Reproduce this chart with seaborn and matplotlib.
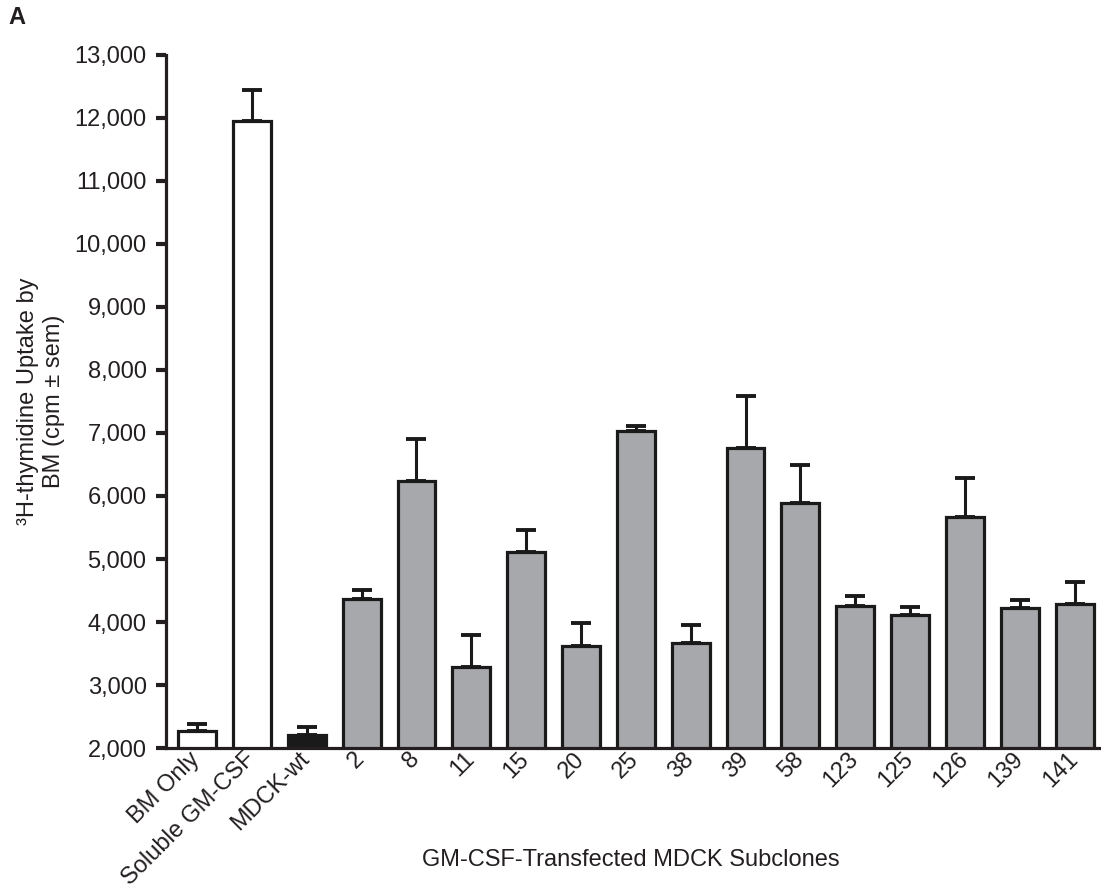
import matplotlib
matplotlib.use("Agg")
import matplotlib.pyplot as plt
from matplotlib.transforms import ScaledTranslation
import seaborn as sns
import pandas as pd

categories = ["BM Only", "Soluble GM-CSF", "MDCK-wt", "2", "8", "11", "15", "20",
              "25", "38", "39", "58", "123", "125", "126", "139", "141"]
means = [2270, 11955, 2210, 4360, 6245, 3290, 5110, 3620,
         7025, 3660, 6765, 5885, 4255, 4110, 5670, 4220, 4285]
sem = [110, 490, 128, 143, 655, 508, 350, 370,
       80, 292, 822, 602, 158, 132, 610, 132, 345]
group = ["control", "control", "wt"] + ["clone"] * 14

group_colors = {"control": "#ffffff", "wt": "#1a1a1a", "clone": "#a7a8ab"}
yticks = list(range(2000, 13001, 1000))

sns.set_theme(style="white")
plt.rcParams["font.family"] = ["Liberation Sans", "DejaVu Sans"]

TXT = "#231f20"
FS = 17

df = pd.DataFrame({"cat": categories, "val": means, "grp": group})
palette = {c: group_colors[g] for c, g in zip(categories, group)}

fig = plt.figure(figsize=(11.01, 8.94), dpi=100)
ax = fig.add_axes([0.1508, 0.1633, 0.8492, 0.7752])

sns.barplot(data=df, x="cat", y="val", hue="cat", palette=palette, legend=False,
            order=categories, errorbar=None, width=0.69, edgecolor="#1a1a1a",
            linewidth=2.3, ax=ax, saturation=1)

xs = list(range(len(categories)))
ax.errorbar(xs, means, yerr=[[0] * len(sem), sem], fmt="none", ecolor="#1a1a1a",
            elinewidth=2.2, capsize=7.5, capthick=2.8, zorder=1)

ax.set_ylim(2000, 13000)
ax.set_xlim(-0.565, 16.48)
ax.set_yticks(yticks)
ax.set_yticklabels([f"{v:,}" for v in yticks], fontsize=FS, color=TXT)
ax.set_xticks(xs)
ax.set_xticklabels(categories, rotation=45, ha="right", rotation_mode="anchor",
                   fontsize=FS, color=TXT)
ax.tick_params(axis="y", length=7, width=3, color=TXT, pad=7, left=True)
ax.tick_params(axis="x", length=0, pad=0)

offset = ScaledTranslation(-8 / 100, 0, fig.dpi_scale_trans)
for lbl in ax.get_xticklabels():
    lbl.set_transform(lbl.get_transform() + offset)

for s in ["top", "right"]:
    ax.spines[s].set_visible(False)
for s in ["left", "bottom"]:
    ax.spines[s].set_linewidth(2.3)
    ax.spines[s].set_color(TXT)

ax.set_xlabel("GM-CSF-Transfected MDCK Subclones", fontsize=FS, color=TXT, va="center")
ax.xaxis.set_label_coords(0.497, -0.1616)
ax.set_ylabel("\u00b3H-thymidine Uptake by\nBM (cpm \u00b1 sem)", fontsize=FS,
              color=TXT, linespacing=1.25, va="center")
ax.yaxis.set_label_coords(-0.1335, 0.5)

fig.text(0.008, 0.98, "A", fontsize=FS, fontweight="bold", color=TXT,
         va="center", ha="left")

fig.savefig("out.png", dpi=100)
